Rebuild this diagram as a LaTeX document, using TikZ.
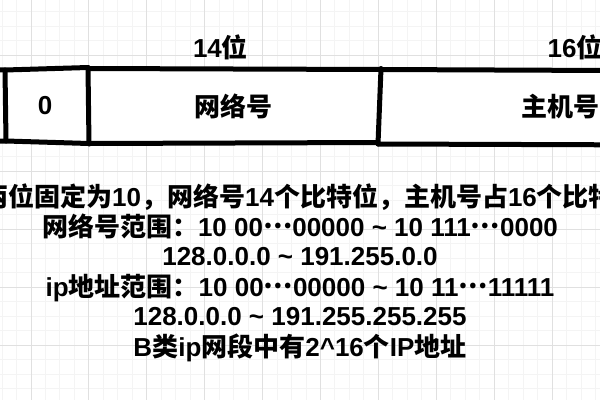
\documentclass[tikz,border=0pt]{standalone}
\usepackage{fontspec}
\setmainfont{Liberation Sans}
\newfontfamily\cjkf{Noto Sans CJK SC Bold}
\newcommand{\C}[1]{{\cjkf #1}}
\newcommand{\midell}{\raisebox{0.3em}{\C{…}}}
\definecolor{gridmajor}{RGB}{224,224,224}
\definecolor{gridminor}{RGB}{244,244,244}
\begin{document}
\begin{tikzpicture}[x=1pt,y=-1pt,
  lbl/.style={font=\fontsize{26}{30}\selectfont\bfseries, anchor=base, inner sep=0pt},
  boxline/.style={line width=5pt, line cap=round, line join=round, black},
  minorline/.style={gridminor, line width=1pt},
  majorline/.style={gridmajor, line width=1pt}]
\clip (0,0) rectangle (600,400);
\fill[white] (0,0) rectangle (600,400);
% minor grid
\foreach \i in {-3,...,40} { \draw[minorline] ({31+\i*14.475},0) -- ++(0,400); }
\foreach \j in {-4,...,24} { \draw[minorline] (0,{55+\j*14.5}) -- ++(600,0); }
% major grid
\foreach \i in {0,...,9} { \draw[majorline] ({31+\i*57.9},0) -- ++(0,400); }
\foreach \j in {-1,...,6} { \draw[majorline] (0,{55+\j*58}) -- ++(600,0); }
% boxes
\fill[white] (-10,69.5) -- (610,70.5) -- (610,145) -- (-10,142) -- cycle;
\draw[boxline] (-10,69.5) -- (5,70) -- (88,67.5);
\draw[boxline] (88,68.5) -- (381,69.5) -- (610,70.5);
\draw[boxline] (-10,141.5) -- (6,141) -- (89,143.5) -- (378,142.5);
\draw[boxline] (378,144) -- (610,144.8);
\draw[boxline] (5,70) -- (6,141);
\draw[boxline] (88,67.5) -- (89,144);
\draw[boxline] (381,68.5) -- (378,144);
% labels
\node[lbl] (b0) at (45,114) {0};
\node[lbl] (net) at (233,116) {\C{网络号}};
\node[lbl] (n14) at (220.5,57) {14\C{位}};
\node[lbl] (n16) at (575,57) {16\C{位}};
\node[lbl] (host) at (560,116) {\C{主机号}};
% description
\node[lbl, anchor=base west] (l1) at (-18,206) {\C{两位固定为}10\C{，网络号}14\C{个比特位，主机号占}16\C{个比特位}};
\node[lbl] (l2) at (300,236) {\C{网络号范围：}10 00\midell00000 \textasciitilde{} 10 111\midell0000};
\node[lbl] (l3) at (300,265) {128.0.0.0 \textasciitilde{} 191.255.0.0};
\node[lbl] (l4) at (300,296) {ip\C{地址范围：}10 00\midell00000 \textasciitilde{} 10 11\midell11111};
\node[lbl] (l5) at (300,325) {128.0.0.0 \textasciitilde{} 191.255.255.255};
\node[lbl] (l6) at (300,356) {B\C{类}ip\C{网段中有}2\textasciicircum{}16\C{个}IP\C{地址}};
\end{tikzpicture}
\end{document}
